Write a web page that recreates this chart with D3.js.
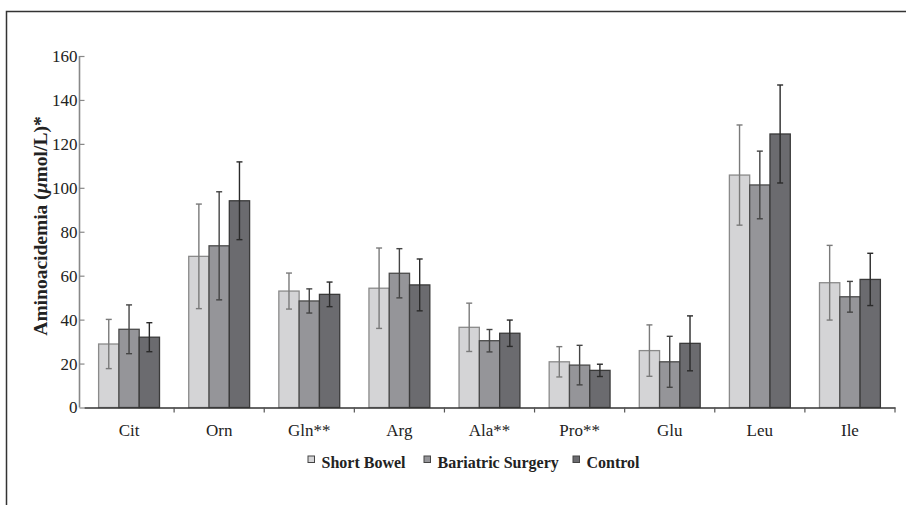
<!DOCTYPE html>
<html><head><meta charset="utf-8">
<script src="https://cdn.jsdelivr.net/npm/d3@7"></script>
<style>body{margin:0;background:#fff}svg{display:block}</style>
</head><body>
<script>
const categories = ["Cit","Orn","Gln**","Arg","Ala**","Pro**","Glu","Leu","Ile"];
const seriesNames = ["Short Bowel","Bariatric Surgery","Control"];
const shortBowel   = [28.9, 68.8, 53.0, 54.3, 36.5, 20.8, 25.9, 105.8, 56.8];
const shortBowelSD = [11.2, 23.8, 8.2, 18.3, 11.0, 6.9, 11.7, 22.8, 17.0];
const bariatric    = [35.6, 73.6, 48.5, 61.1, 30.4, 19.3, 20.8, 101.3, 50.4];
const bariatricSD  = [11.1, 24.6, 5.5, 11.2, 5.1, 9.0, 11.6, 15.4, 7.0];
const control      = [32.0, 94.1, 51.5, 55.8, 33.8, 16.9, 29.2, 124.5, 58.3];
const controlSD    = [6.6, 17.7, 5.6, 11.8, 6.0, 2.8, 12.5, 22.3, 11.9];
const yTicks = [0,20,40,60,80,100,120,140,160];

const W = 906, H = 505;
const fills = ["#d4d4d6","#959599","#6b6b6f"];
const strokes = ["#8a8a8a","#4a4a4a","#3a3a3a"];
const errCols = ["#7a7a7a","#444","#2a2a2a"];
const font = "'Liberation Serif','Times New Roman',serif";

const svg = d3.select("body").append("svg").attr("width",W).attr("height",H);

// frame
svg.append("path").attr("d","M6.5,505 V11.5 H906").attr("fill","none").attr("stroke","#333").attr("stroke-width",1.5);

const x0 = d3.scaleBand().domain(categories).range([84,895]).paddingInner(0).paddingOuter(0);
const x1 = d3.scaleBand().domain(seriesNames).range([0,x0.bandwidth()]).paddingOuter(0.72).paddingInner(0);
const y = d3.scaleLinear().domain([0,160]).range([407.5,56]);

const series = [
  {name:seriesNames[0], vals:shortBowel, sd:shortBowelSD},
  {name:seriesNames[1], vals:bariatric, sd:bariatricSD},
  {name:seriesNames[2], vals:control, sd:controlSD}
];

// y axis
const ya = svg.append("g").attr("transform","translate(84.5,0)")
  .call(d3.axisLeft(y).tickValues(yTicks).tickSize(5).tickPadding(2));
ya.select(".domain").attr("stroke","#888").attr("stroke-width",1.6).attr("d","M-5,56V407.5");
ya.selectAll(".tick line").attr("stroke","#888").attr("stroke-width",1.2);
ya.selectAll("text").attr("font-family",font).attr("font-size",17).attr("fill","#222");

// bars
series.forEach((s,si)=>{
  const g = svg.append("g");
  categories.forEach((c,i)=>{
    const bx = x0(c)+x1(s.name);
    g.append("rect").attr("x",bx).attr("y",y(s.vals[i])).attr("width",x1.bandwidth())
      .attr("height",y(0)-y(s.vals[i])).attr("fill",fills[si]).attr("stroke",strokes[si]).attr("stroke-width",1.3);
  });
});
// error bars
series.forEach((s,si)=>{
  const g = svg.append("g").attr("stroke",errCols[si]).attr("stroke-width",1.4);
  categories.forEach((c,i)=>{
    const cx = x0(c)+x1(s.name)+x1.bandwidth()/2;
    const hi = y(s.vals[i]+s.sd[i]), lo = y(s.vals[i]-s.sd[i]);
    g.append("line").attr("x1",cx).attr("x2",cx).attr("y1",hi).attr("y2",lo);
    g.append("line").attr("x1",cx-3).attr("x2",cx+3).attr("y1",hi).attr("y2",hi);
    g.append("line").attr("x1",cx-3).attr("x2",cx+3).attr("y1",lo).attr("y2",lo);
  });
});

// x axis
const xa = svg.append("g").attr("transform","translate(0,407.5)")
  .call(d3.axisBottom(x0).tickSize(0).tickPadding(16));
xa.select(".domain").attr("stroke","#333").attr("stroke-width",1.6);
xa.selectAll("text").attr("font-family",font).attr("font-size",17).attr("fill","#222");
const bounds = categories.slice(1).map(c=>x0(c)).concat([x0.range()[1]]);
xa.selectAll(".bt").data(bounds).enter().append("line").attr("class","bt")
  .attr("x1",d=>d).attr("x2",d=>d).attr("y1",0).attr("y2",5).attr("stroke","#555").attr("stroke-width",1.2);

// y title
const yt = svg.append("text").attr("transform","translate(47,226) rotate(-90)")
  .attr("text-anchor","middle").attr("font-family",font).attr("font-weight","bold").attr("font-size",19.5).attr("fill","#222");
yt.append("tspan").text("Aminoacidemia (");
yt.append("tspan").attr("font-style","italic").text("\u03bc");
yt.append("tspan").text("mol/L)*");

// legend
const legX = [308,424,573];
const lg = svg.append("g");
seriesNames.forEach((n,i)=>{
  lg.append("rect").attr("x",legX[i]).attr("y",456).attr("width",6.5).attr("height",6.5)
    .attr("fill",fills[i]).attr("stroke","#444").attr("stroke-width",1);
  lg.append("text").attr("x",legX[i]+13.5).attr("y",467.5).attr("font-family",font).attr("font-weight","bold")
    .attr("font-size",16).attr("fill","#222").text(n);
});
</script>
</body></html>
